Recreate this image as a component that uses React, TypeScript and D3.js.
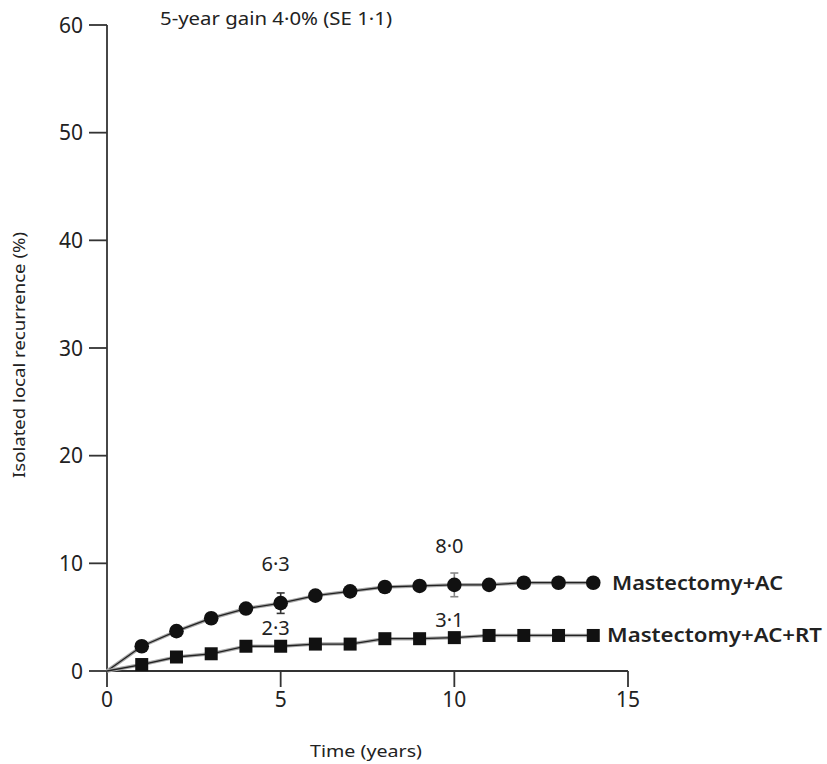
import React from "react";
import * as d3 from "d3";

// Follow-up years
const years = [1, 2, 3, 4, 5, 6, 7, 8, 9, 10, 11, 12, 13, 14];
// Isolated local recurrence (%), mastectomy + AC
const acOnly = [2.3, 3.7, 4.9, 5.8, 6.3, 7.0, 7.4, 7.8, 7.9, 8.0, 8.0, 8.2, 8.2, 8.2];
// Isolated local recurrence (%), mastectomy + AC + RT
const acRT = [0.6, 1.3, 1.6, 2.3, 2.3, 2.5, 2.5, 3.0, 3.0, 3.1, 3.3, 3.3, 3.3, 3.3];
// Standard errors shown at 5 and 10 years
const errYears = [5, 10];
const acOnlyErr = [0.95, 1.1];
const acRTErr = [0.3, 0.4];
const seriesNames = ["Mastectomy+AC", "Mastectomy+AC+RT"];
const xTicks = [0, 5, 10, 15];
const yTicks = [0, 10, 20, 30, 40, 50, 60];
const titleText = "5-year gain 4\u00b70% (SE 1\u00b71)";
const xLabel = "Time (years)";
const yLabel = "Isolated local recurrence (%)";

const FONT = "'Noto Sans', 'Open Sans', sans-serif";
const INK = "#222";

const fmt = (v: number) => v.toFixed(1).replace(".", "\u00b7");

export default function App() {
  const x = d3.scaleLinear().domain([0, 15]).range([107, 628]);
  const y = d3.scaleLinear().domain([0, 60]).range([671, 25]);

  const line = d3
    .line<[number, number]>()
    .x((d) => x(d[0]))
    .y((d) => y(d[1]));

  const acPts: [number, number][] = [[0, 0], ...years.map((t, i) => [t, acOnly[i]] as [number, number])];
  const rtPts: [number, number][] = [[0, 0], ...years.map((t, i) => [t, acRT[i]] as [number, number])];

  const valueAt = (arr: number[], t: number) => arr[years.indexOf(t)];

  const errBar = (t: number, v: number, e: number, key: string, color: string) => (
    <g key={key} stroke={color} strokeWidth={1.6}>
      <line x1={x(t)} x2={x(t)} y1={y(v + e)} y2={y(v - e)} />
      <line x1={x(t) - 4} x2={x(t) + 4} y1={y(v + e)} y2={y(v + e)} />
      <line x1={x(t) - 4} x2={x(t) + 4} y1={y(v - e)} y2={y(v - e)} />
    </g>
  );

  return (
    <svg
      width={827}
      height={764}
      style={{ position: "absolute", left: 0, top: 0, background: "#fff" }}
      fontFamily={FONT}
    >
      {/* title */}
      <text x={160} y={25} fontSize={18} fill={INK} textLength={232} lengthAdjust="spacingAndGlyphs">
        {titleText}
      </text>

      {/* y axis */}
      <line x1={107} x2={107} y1={y(60)} y2={y(0)} stroke="#333" strokeWidth={1.8} />
      {yTicks.map((t) => (
        <g key={"y" + t}>
          <line x1={89} x2={107} y1={y(t)} y2={y(t)} stroke="#333" strokeWidth={1.8} />
          <text x={83} y={y(t)} dy="0.36em" textAnchor="end" fontSize={21} fill={INK}>
            {t}
          </text>
        </g>
      ))}

      {/* x axis */}
      <line x1={x(0)} x2={x(15)} y1={671} y2={671} stroke="#333" strokeWidth={1.8} />
      {xTicks.map((t) => (
        <g key={"x" + t}>
          <line x1={x(t)} x2={x(t)} y1={671} y2={687} stroke="#333" strokeWidth={1.8} />
          <text x={x(t)} y={707} textAnchor="middle" fontSize={21} fill={INK}>
            {t}
          </text>
        </g>
      ))}

      {/* axis titles */}
      <text x={366} y={757} textAnchor="middle" fontSize={17} fill={INK} textLength={112} lengthAdjust="spacingAndGlyphs">
        {xLabel}
      </text>
      <text
        transform={`translate(25, 355) rotate(-90)`}
        textAnchor="middle"
        fontSize={17}
        fill={INK}
        textLength={246}
        lengthAdjust="spacingAndGlyphs"
      >
        {yLabel}
      </text>

      {/* curves */}
      {[acPts, rtPts].map((pts, i) => (
        <g key={"ln" + i}>
          <path d={line(pts) ?? ""} fill="none" stroke="#aaa" strokeWidth={3.5} />
          <path d={line(pts) ?? ""} fill="none" stroke="#222" strokeWidth={1.3} />
        </g>
      ))}

      {/* error bars */}
      {errYears.map((t, i) => errBar(t, valueAt(acOnly, t), acOnlyErr[i], "ea" + t, i === 0 ? "#333" : "#888"))}
      {errYears.map((t, i) => errBar(t, valueAt(acRT, t), acRTErr[i], "er" + t, "#555"))}

      {/* markers */}
      {years.map((t, i) => (
        <circle key={"c" + t} cx={x(t)} cy={y(acOnly[i])} r={7.3} fill="#111" />
      ))}
      {years.map((t, i) => (
        <rect key={"s" + t} x={x(t) - 6.5} y={y(acRT[i]) - 6.5} width={13} height={13} fill="#111" />
      ))}

      {/* value labels at 5 and 10 years */}
      {errYears.map((t) => (
        <text key={"la" + t} x={x(t) - 5} y={y(valueAt(acOnly, t)) - 32} textAnchor="middle" fontSize={20} fill={INK}>
          {fmt(valueAt(acOnly, t))}
        </text>
      ))}
      {errYears.map((t) => (
        <text key={"lr" + t} x={x(t) - 5} y={y(valueAt(acRT, t)) - 11} textAnchor="middle" fontSize={20} fill={INK}>
          {fmt(valueAt(acRT, t))}
        </text>
      ))}

      {/* series labels */}
      <text x={612} y={y(acOnly[acOnly.length - 1]) + 7} fontSize={19} fontWeight={600} fill={INK} textLength={171} lengthAdjust="spacingAndGlyphs">
        {seriesNames[0]}
      </text>
      <text x={607} y={y(acRT[acRT.length - 1]) + 7} fontSize={19} fontWeight={600} fill={INK} textLength={215} lengthAdjust="spacingAndGlyphs">
        {seriesNames[1]}
      </text>
    </svg>
  );
}
